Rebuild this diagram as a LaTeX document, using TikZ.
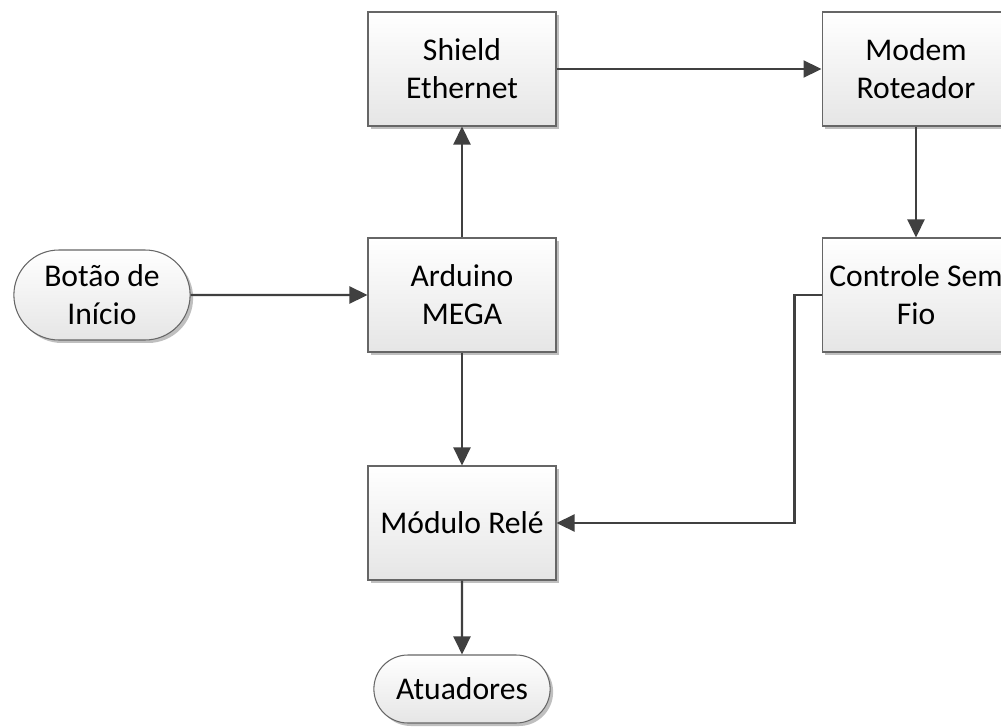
\documentclass[tikz,border=0pt]{standalone}
\usepackage{fontspec}
\setmainfont{Carlito}
\usetikzlibrary{shapes.misc,shadows,arrows.meta}

\begin{document}
\begin{tikzpicture}[x=0.02cm,y=-0.02cm,
kasten/.style={rectangle, draw=black!60, line width=0.6pt, top color=white, bottom color=black!10,
  minimum width=3.76cm, minimum height=2.28cm, align=center,
  font=\fontsize{18}{21.6}\selectfont,
  drop shadow={shadow xshift=0.06cm, shadow yshift=-0.06cm, fill=black!25, opacity=1}},
rund/.style={kasten, rounded rectangle, minimum height=1.8cm},
pfeil/.style={-{Triangle[length=0.36cm,width=0.34cm]}, line width=1.3pt, black!75},
]
\useasboundingbox (0,0) rectangle (1001,727);

\node[kasten] (shield) at (462,69) {Shield\\Ethernet};
\node[kasten] (modem) at (916,69) {Modem\\Roteador};
\node[kasten] (arduino) at (462,295) {Arduino\\MEGA};
\node[kasten] (controle) at (916,295) {Controle Sem\\Fio};
\node[kasten] (rele) at (462,523) {Módulo Relé};
\node[rund] (botao) at (102,295) {Botão de\\Início};
\node[rund, minimum height=1.36cm] (atuadores) at (462,689) {Atuadores};

\draw[pfeil] (botao) -- (arduino);
\draw[pfeil] (arduino) -- (shield);
\draw[pfeil] (shield) -- (modem);
\draw[pfeil] (modem) -- (controle);
\draw[pfeil] (arduino) -- (rele);
\draw[pfeil] (controle.west) -- ++(-27,0) |- (rele.east);
\draw[pfeil] (rele) -- (atuadores);

\end{tikzpicture}
\end{document}
